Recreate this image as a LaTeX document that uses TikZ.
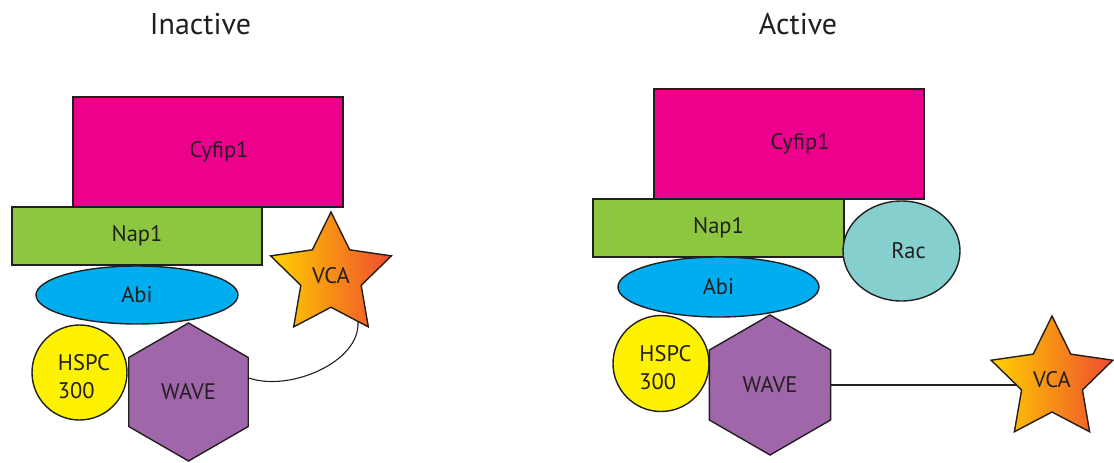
\documentclass[tikz,border=0pt]{standalone}
\usepackage{fontspec}
\setmainfont{PT Sans}
\usetikzlibrary{shapes.geometric,backgrounds,calc}

\definecolor{ink}{HTML}{231F20}
\definecolor{cyfip}{HTML}{EC008C}
\definecolor{nap}{HTML}{8DC63F}
\definecolor{abi}{HTML}{00AEEF}
\definecolor{hspc}{HTML}{FFF200}
\definecolor{wave}{HTML}{A066AA}
\definecolor{rac}{HTML}{86CFCF}
\definecolor{vcaA}{HTML}{FFD200}
\definecolor{vcaB}{HTML}{F7941D}
\definecolor{vcaC}{HTML}{EF4B2E}

\tikzset{
  lbl/.style={text=ink, font=\fontsize{22.5}{28}\selectfont},
  heading/.style={text=ink, font=\fontsize{30}{36}\selectfont, inner sep=0pt},
  part/.style={lbl, draw=ink, line width=1.4pt, inner sep=0pt},
  block/.style={part, rectangle},
  blob/.style={part, ellipse},
  ball/.style={part, circle},
  hexa/.style={part, regular polygon, regular polygon sides=6, shape border rotate=30},
  vca/.style={part, star, star points=5, star point ratio=2,
    left color=vcaA, middle color=vcaB, right color=vcaC},
  link/.style={draw=ink, line width=1.1pt},
}

\begin{document}
\begin{tikzpicture}[x=1pt, y=-1pt]
\useasboundingbox (0,0) rectangle (1114,463);

% headings
\node[heading] (tInactive) at (200.5,24) {Inactive};
\node[heading] (tActive) at (798,24) {Active};

% inactive complex
\node[block, fill=cyfip, minimum width=270pt, minimum height=110pt,
      label={[lbl, xshift=11pt]center:Cyfip1}] (cyfipL) at (208,152) {};
\node[block, fill=nap, minimum width=250pt, minimum height=58pt] (napL) at (137,236) {Nap1};
\node[blob, fill=abi, minimum width=202pt, minimum height=58pt] (abiL) at (137,295) {Abi};
\node[ball, fill=hspc, minimum size=95pt] (hspcL) at (79.5,372.5) {};
\node[lbl, align=left] at ([xshift=4.5pt, yshift=-4pt]hspcL.center) (hspcLt) {HSPC\\300};
\node[hexa, fill=wave, minimum size=138pt] (waveL) at (188.5,392) {WAVE};
\node[vca, minimum size=127pt] (vcaL) at (331,275.5) {VCA};

% VCA folded back onto the complex
\draw[link] (waveL.13) .. controls (290,392) and (360,362) .. (vcaL.300);

% active complex
\node[block, fill=cyfip, minimum width=270pt, minimum height=110pt,
      label={[lbl, xshift=11pt]center:Cyfip1}] (cyfipR) at (789,144) {};
\node[block, fill=nap, minimum width=251pt, minimum height=58pt] (napR) at (718.5,228) {Nap1};
\node[blob, fill=rac, minimum width=117pt, minimum height=100pt,
      label={[lbl, xshift=7pt]center:Rac}] (racR) at (901.5,251) {};
\node[blob, fill=abi, minimum width=201pt, minimum height=60pt] (abiR) at (718.5,287) {Abi};
\node[ball, fill=hspc, minimum size=96pt] (hspcR) at (661,363.5) {};
\node[lbl, align=left] at ([xshift=4.5pt, yshift=-4pt]hspcR.center) (hspcRt) {HSPC\\300};
\node[hexa, fill=wave, minimum size=140pt] (waveR) at (770,385) {WAVE};
\node[vca, minimum size=128pt] (vcaR) at (1052,380) {VCA};

% VCA released from the complex
\begin{pgfonlayer}{background}
  \draw[link] (waveR.east) -- (waveR.east -| vcaR.center);
\end{pgfonlayer}
\end{tikzpicture}
\end{document}
